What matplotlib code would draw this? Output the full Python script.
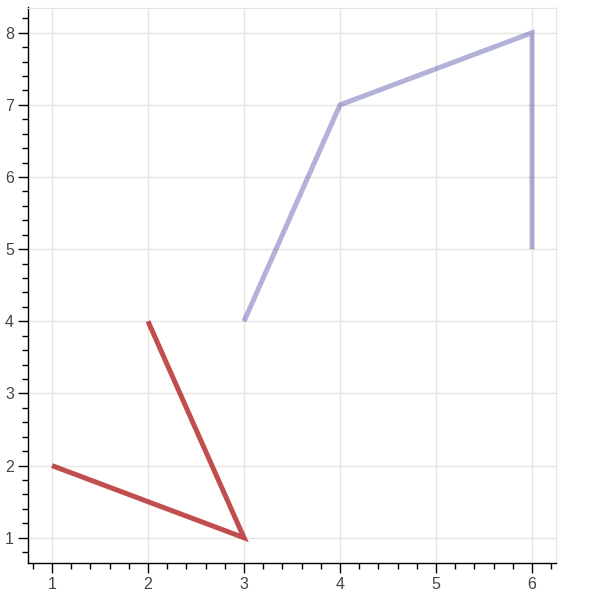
import matplotlib.pyplot as plt
from matplotlib.ticker import MultipleLocator

# two polylines (bokeh multi_line style)
red_x = [1, 3, 2]
red_y = [2, 1, 4]
blue_x = [3, 4, 6, 6]
blue_y = [4, 7, 8, 5]

plt.rcParams['font.family'] = ['Liberation Sans', 'DejaVu Sans']

fig = plt.figure(figsize=(6, 6), dpi=100)
ax = fig.add_axes([28 / 600, 37 / 600, 528 / 600, 555.5 / 600])

ax.plot(red_x, red_y, color="firebrick", alpha=0.8, lw=3.6,
        solid_capstyle="butt", solid_joinstyle="miter")
ax.plot(blue_x, blue_y, color="navy", alpha=0.3, lw=3.6,
        solid_capstyle="butt", solid_joinstyle="miter")

ax.set_xlim(0.75, 6.25)
ax.set_ylim(0.65, 8.35)

ax.xaxis.set_major_locator(MultipleLocator(1))
ax.xaxis.set_minor_locator(MultipleLocator(0.2))
ax.yaxis.set_major_locator(MultipleLocator(1))
ax.yaxis.set_minor_locator(MultipleLocator(0.2))

ax.grid(True, which="major", color="#e5e5e5", lw=1)
ax.set_axisbelow(True)

for side in ["top", "right"]:
    ax.spines[side].set_color("#e5e5e5")
for side in ["left", "bottom"]:
    ax.spines[side].set_color("black")
    ax.spines[side].set_linewidth(1)

ax.tick_params(which="major", direction="out", length=7, width=1, color="black",
               labelsize=11.5, labelcolor="#444444", pad=3)
ax.tick_params(which="minor", direction="out", length=4.5, width=1, color="black")

plt.savefig("out.png", dpi=100)
